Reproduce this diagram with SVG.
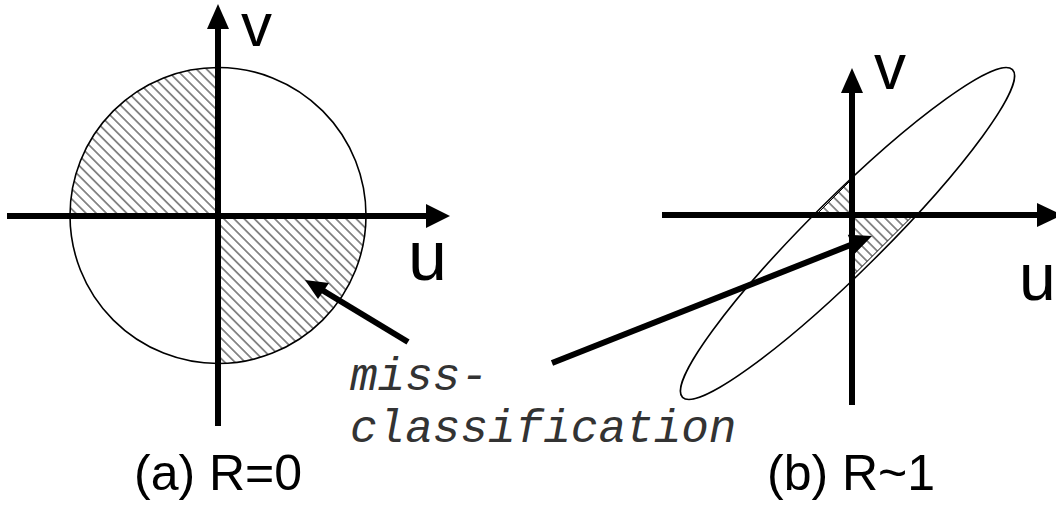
<svg xmlns="http://www.w3.org/2000/svg" width="1056" height="508" viewBox="0 0 1056 508">
<style>
.axis{stroke:#000;stroke-width:6;fill:none}
.ptr{stroke:#000;stroke-width:6;fill:none}
.head{fill:#000;stroke:none}
.outline{fill:none;stroke:#000;stroke-width:1.6}
.hatch{fill:url(#hatch);stroke:none}
.hatchb{fill:url(#hatch);stroke:#000;stroke-width:1}
.lbl{font-family:"Liberation Sans",Arial,sans-serif;fill:#000}
.note{font-family:"Liberation Mono","Courier New",monospace;font-style:italic;font-size:46px;fill:#333}
</style>
<defs>
<pattern id="hatch" patternUnits="userSpaceOnUse" width="7.2" height="7.2" patternTransform="rotate(45)">
<line x1="0" y1="3.6" x2="7.2" y2="3.6" stroke="#333" stroke-width="1.1"/>
</pattern>
</defs>
<rect width="1056" height="508" fill="#fff"/>

<g id="panel-a">
<path class="hatch" d="M218,215.5 L70,215.5 A148,148 0 0 1 218,67.5 Z"/>
<path class="hatch" d="M218,215.5 L366,215.5 A148,148 0 0 1 218,363.5 Z"/>
<circle class="outline" cx="218" cy="215.5" r="148"/>
</g>

<g id="panel-b">
<polygon class="hatchb" points="852,215 816,215 852,179"/>
<polygon class="hatchb" points="852,215 913.5,215 852,276.5"/>
<ellipse class="outline" cx="847.5" cy="233.5" rx="232.5" ry="37" transform="rotate(-44.8 847.5 233.5)"/>
</g>

<g id="connectors">
<line class="axis" x1="218" y1="426" x2="218" y2="28"/>
<polygon class="head" points="218,4 207,29 229,29"/>
<line class="axis" x1="7" y1="216" x2="427" y2="216"/>
<polygon class="head" points="450,216 426,204 426,228"/>
<line class="axis" x1="852" y1="405" x2="852" y2="92"/>
<polygon class="head" points="852,68 841,93 863,93"/>
<line class="axis" x1="662" y1="215" x2="1038" y2="215"/>
<polygon class="head" points="1062,215 1037,203 1037,227"/>
<line class="ptr" x1="408" y1="342" x2="322" y2="290"/>
<polygon class="head" points="305,280 329,283 318,299"/>
<line class="ptr" x1="552" y1="363" x2="853" y2="244"/>
<polygon class="head" points="872,236 847.8,234.7 855,253.4"/>
</g>

<g id="labels">
<text class="lbl" x="241" y="46" font-size="62">v</text>
<text class="lbl" x="408" y="280" font-size="70">u</text>
<text class="lbl" x="874" y="89" font-size="64">v</text>
<text class="lbl" x="1019" y="300" font-size="66">u</text>
<text class="lbl" x="134" y="490" font-size="50">(a) R=0</text>
<text class="lbl" x="767" y="490" font-size="50">(b) R~1</text>
<text class="note" x="350" y="390">miss-</text>
<text class="note" x="350" y="442">classification</text>
</g>
</svg>
